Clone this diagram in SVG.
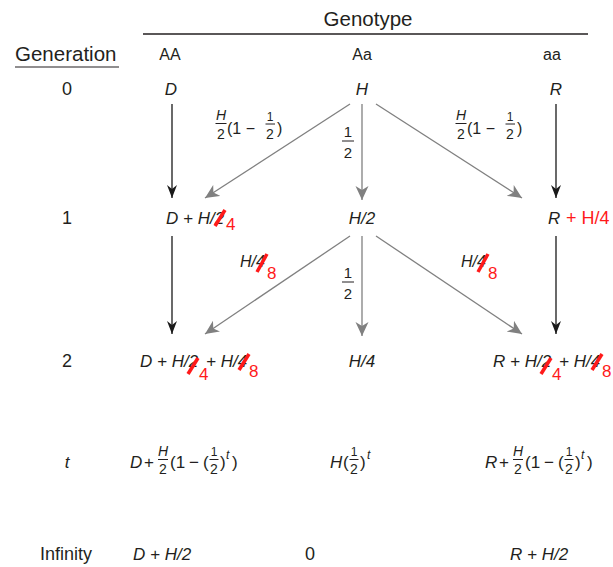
<svg xmlns="http://www.w3.org/2000/svg" width="613" height="567" viewBox="0 0 613 567">
<style>
text{font-family:"Liberation Sans",Arial,sans-serif;fill:#231f20}
.i{font-style:italic;font-size:17px}
.n{font-size:18px}
.h{font-size:20.5px}
.s{font-size:16px}
.f{font-style:italic;font-size:14px}
.d{font-size:14px}
.p{font-size:17px}
.u{font-size:12px}
.m{text-anchor:middle}
.r{fill:#ff1a1a;font-size:17px}
.sl{stroke:#ff1a1a;stroke-width:3.5}
.bar{stroke:#231f20;stroke-width:1}
.ab{stroke:#1a1a1a;stroke-width:1.3;fill:none;marker-end:url(#mb)}
.ag{stroke:#808080;stroke-width:1.3;fill:none;marker-end:url(#mg)}
</style>
<defs>
<marker id="mb" viewBox="-13 -6 14 12" refX="0" refY="0" markerWidth="14" markerHeight="12" markerUnits="userSpaceOnUse" orient="auto"><path d="M0,0 L-13,-5 L-9,0 L-13,5 Z" fill="#1a1a1a"/></marker>
<marker id="mg" viewBox="-14 -7 15 14" refX="0" refY="0" markerWidth="15" markerHeight="14" markerUnits="userSpaceOnUse" orient="auto"><path d="M0,0 L-14,-6.5 L-10,0 L-14,6.5 Z" fill="#808080"/></marker>
</defs>
<rect width="613" height="567" fill="#fff"/>

<g id="header">
<text class="h m" x="368" y="26">Genotype</text>
<line x1="143" y1="34" x2="588" y2="34" stroke="#231f20" stroke-width="1.3"/>
<text class="h" x="15" y="61">Generation</text>
<line x1="15" y1="67" x2="119" y2="67" stroke="#231f20" stroke-width="1.2"/>
<text class="s m" x="170" y="60">AA</text>
<text class="s m" x="362" y="60">Aa</text>
<text class="s m" x="552" y="60">aa</text>
</g>

<g id="gen-labels">
<text class="n m" x="67" y="95">0</text>
<text class="n m" x="67" y="224">1</text>
<text class="n m" x="67" y="367">2</text>
<text class="i m" x="67" y="468">t</text>
<text class="n" x="40" y="560">Infinity</text>
</g>

<g id="row0">
<text class="i m" x="171" y="95">D</text>
<text class="i m" x="362" y="95">H</text>
<text class="i m" x="556" y="95">R</text>
</g>

<g id="connectors">
<line class="ab" x1="172" y1="104" x2="172" y2="198"/>
<line class="ag" x1="350" y1="104" x2="205" y2="198"/>
<line class="ag" x1="362" y1="104" x2="362" y2="200"/>
<line class="ag" x1="376" y1="104" x2="522" y2="198"/>
<line class="ab" x1="556" y1="104" x2="556" y2="198"/>
<line class="ab" x1="172" y1="236" x2="172" y2="334"/>
<line class="ag" x1="350" y1="236" x2="205" y2="334"/>
<line class="ag" x1="362" y1="236" x2="362" y2="336"/>
<line class="ag" x1="376" y1="236" x2="522" y2="334"/>
<line class="ab" x1="556" y1="236" x2="556" y2="334"/>
</g>

<g id="label-left0">
<text class="f m" x="221" y="120">H</text>
<line class="bar" x1="215.5" y1="123.5" x2="226.5" y2="123.5"/>
<text class="d m" x="221" y="139">2</text>
<text class="s" x="227" y="134">(1 −</text>
<text class="u m" x="270" y="121">1</text>
<line class="bar" x1="265.5" y1="124" x2="275" y2="124"/>
<text class="d m" x="270" y="139">2</text>
<text class="s" x="277" y="134">)</text>
</g>
<g id="label-right0" transform="translate(240,0)">
<text class="f m" x="221" y="120">H</text>
<line class="bar" x1="215.5" y1="123.5" x2="226.5" y2="123.5"/>
<text class="d m" x="221" y="139">2</text>
<text class="s" x="227" y="134">(1 −</text>
<text class="u m" x="270" y="121">1</text>
<line class="bar" x1="265.5" y1="124" x2="275" y2="124"/>
<text class="d m" x="270" y="139">2</text>
<text class="s" x="277" y="134">)</text>
</g>
<g id="label-center0">
<text class="m" x="348" y="137" style="font-size:15px">1</text>
<line class="bar" x1="342" y1="141" x2="354" y2="141"/>
<text class="m" x="348" y="158" style="font-size:15px">2</text>
</g>

<g id="row1">
<g id="n1-left">
<text class="i" x="166" y="224">D + H/2</text>
<line class="sl" x1="215" y1="226" x2="225" y2="210"/>
<text class="r" x="226" y="230">4</text>
</g>
<text id="n1-center" class="i m" x="362" y="224">H/2</text>
<g id="n1-right">
<text class="i" x="548" y="224">R</text>
<text class="r" x="566" y="224" style="font-size:18px">+ H/4</text>
</g>
</g>

<g id="label-left1">
<text class="i" x="240" y="267" style="font-size:16px">H/4</text>
<line class="sl" x1="257" y1="272" x2="267" y2="254"/>
<text class="r" x="267" y="279">8</text>
</g>
<g id="label-right1">
<text class="i" x="461" y="267" style="font-size:16px">H/4</text>
<line class="sl" x1="478" y1="272" x2="488" y2="254"/>
<text class="r" x="488" y="279">8</text>
</g>
<g id="label-center1">
<text class="m" x="348" y="278" style="font-size:15px">1</text>
<line class="bar" x1="342" y1="282" x2="354" y2="282"/>
<text class="m" x="348" y="299" style="font-size:15px">2</text>
</g>

<g id="row2">
<g id="n2-left">
<text class="i" x="140" y="367">D + H/2</text>
<line class="sl" x1="188" y1="374" x2="198" y2="358"/>
<text class="r" x="199" y="380">4</text>
<text class="i" x="206" y="367">+ H/4</text>
<line class="sl" x1="239" y1="370" x2="249" y2="354"/>
<text class="r" x="249" y="377">8</text>
</g>
<text id="n2-center" class="i m" x="362" y="367">H/4</text>
<g id="n2-right">
<text class="i" x="493" y="367">R + H/2</text>
<line class="sl" x1="541" y1="374" x2="551" y2="358"/>
<text class="r" x="552" y="380">4</text>
<text class="i" x="559" y="367">+ H/4</text>
<line class="sl" x1="592" y1="370" x2="602" y2="354"/>
<text class="r" x="602" y="377">8</text>
</g>
</g>

<g id="rowt-left">
<text class="i" x="130" y="468">D</text>
<text class="p" x="144" y="468">+</text>
<text class="f m" x="163" y="456">H</text>
<line class="bar" x1="158" y1="459.5" x2="168" y2="459.5"/>
<text class="d m" x="163" y="474">2</text>
<text class="p" x="170" y="468">(1</text>
<text class="p" x="189" y="468">−</text>
<text class="p" x="203" y="468">(</text>
<text class="u m" x="214" y="456">1</text>
<line class="bar" x1="209.5" y1="459.5" x2="218.5" y2="459.5"/>
<text class="d m" x="214" y="474">2</text>
<text class="p" x="220" y="468">)</text>
<text x="226" y="459" style="font-size:12px;font-style:italic">t</text>
<text class="p" x="232" y="468">)</text>
</g>
<g id="rowt-center">
<text class="i" x="330" y="468">H</text>
<text class="p" x="343" y="468">(</text>
<text class="u m" x="354" y="456">1</text>
<line class="bar" x1="349.5" y1="459.5" x2="358.5" y2="459.5"/>
<text class="d m" x="354" y="474">2</text>
<text class="p" x="360" y="468">)</text>
<text x="367" y="459" style="font-size:12px;font-style:italic">t</text>
</g>
<g id="rowt-right" transform="translate(355,0)">
<text class="i" x="130" y="468">R</text>
<text class="p" x="144" y="468">+</text>
<text class="f m" x="163" y="456">H</text>
<line class="bar" x1="158" y1="459.5" x2="168" y2="459.5"/>
<text class="d m" x="163" y="474">2</text>
<text class="p" x="170" y="468">(1</text>
<text class="p" x="189" y="468">−</text>
<text class="p" x="203" y="468">(</text>
<text class="u m" x="214" y="456">1</text>
<line class="bar" x1="209.5" y1="459.5" x2="218.5" y2="459.5"/>
<text class="d m" x="214" y="474">2</text>
<text class="p" x="220" y="468">)</text>
<text x="226" y="459" style="font-size:12px;font-style:italic">t</text>
<text class="p" x="232" y="468">)</text>
</g>

<g id="rowinf">
<text class="i" x="133" y="560">D + H/2</text>
<text class="n m" x="310" y="560">0</text>
<text class="i" x="510" y="560">R + H/2</text>
</g>
</svg>
